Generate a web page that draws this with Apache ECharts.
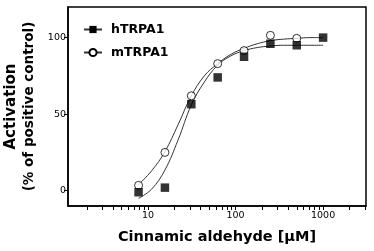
<!DOCTYPE html>
<html lang="en">
<head>
<meta charset="UTF-8">
<title>Cinnamic aldehyde - TRPA1</title>
<script src="https://cdn.jsdelivr.net/npm/echarts@6/dist/echarts.min.js"></script>
<style>
    html, body { margin: 0; padding: 0; background: #fff; }
    #chart { width: 374px; height: 251px; }
</style>
</head>
<body>
<div id="chart"></div>
<script>
    // measured points (concentration in uM, activation in %)
    var doses = [7.8, 15.6, 31.25, 62.5, 125, 250, 500, 1000];
    var hValues = [-1, 2, 56.5, 74, 87.5, 96, 95, 100];
    var mDoses = [7.8, 15.6, 31.25, 62.5, 125, 250, 500];
    var mValues = [3.5, 25, 62, 83, 91.5, 101.5, 99.5];

    // fitted curves
    var fitDoses = [7.8, 11, 15.6, 22, 31.25, 44, 62.5, 88, 125, 177, 250, 354, 500, 707, 1000];
    var hFit = [-5, 1, 13.5, 33, 56, 71, 82, 88, 91.5, 93.5, 94.5, 95, 95, 95, 95];
    var mFit = [4, 13, 25.5, 43, 62, 75, 83, 89, 93, 96, 98, 99, 99.5, 100, 100];

    // axis ticks
    var xTickValues = [2, 3, 4, 5, 6, 7, 8, 9, 10, 20, 30, 40, 50, 60, 70, 80, 90, 100,
        200, 300, 400, 500, 600, 700, 800, 900, 1000, 2000, 3000];
    var xLabelValues = [10, 100, 1000];
    var yLabelValues = [0, 50, 100];

    function lg(v) { return Math.log10(v); }
    function pairs(xs, ys) {
        var out = [];
        for (var i = 0; i < ys.length; i++) {
            out.push([lg(xs[i]), ys[i]]);
        }
        return out;
    }

    var font = 'DejaVu Sans';
    var chart = echarts.init(document.getElementById('chart'));
    chart.setOption({
        animation: false,
        grid: {
            left: 68, right: 8, top: 7, bottom: 45,
            containLabel: false,
            outerBoundsMode: 'none',
            show: true, borderColor: '#000', borderWidth: 1.5
        },
        legend: {
            data: ['hTRPA1', 'mTRPA1'],
            orient: 'vertical',
            left: 78,
            top: 17,
            itemWidth: 18,
            itemHeight: 9,
            itemGap: 8,
            selectedMode: false,
            textStyle: {
                fontFamily: font, fontWeight: 'bold', fontSize: 12.5,
                color: '#000', lineHeight: 15, padding: [0, 0, 0, 4]
            }
        },
        xAxis: {
            type: 'value',
            min: 0.086,
            max: 3.49,
            splitLine: { show: false },
            axisLine: { onZero: false, lineStyle: { color: '#000', width: 1.5 } },
            axisTick: {
                length: 4,
                lineStyle: { color: '#000', width: 1 },
                customValues: xTickValues.map(lg)
            },
            axisLabel: {
                customValues: xLabelValues.map(lg),
                formatter: function (v) { return String(Math.round(Math.pow(10, v))); },
                fontFamily: font, fontSize: 9.5, color: '#000', margin: 5
            },
            name: 'Cinnamic aldehyde [\u03bcM]',
            nameLocation: 'middle',
            nameGap: 24,
            nameTextStyle: { fontFamily: font, fontWeight: 'bold', fontSize: 14.5, color: '#000' }
        },
        yAxis: {
            type: 'value',
            min: -10,
            max: 120,
            splitLine: { show: false },
            axisLine: { onZero: false, lineStyle: { color: '#000', width: 1.5 } },
            axisTick: {
                length: 4,
                lineStyle: { color: '#000', width: 1 },
                customValues: yLabelValues
            },
            axisLabel: {
                customValues: yLabelValues,
                fontFamily: font, fontSize: 9.5, color: '#000', margin: 2
            },
            name: '{a|Activation}\n{b|(% of positive control)}',
            nameLocation: 'middle',
            nameGap: 30,
            nameTextStyle: {
                rich: {
                    a: { fontFamily: font, fontWeight: 'bold', fontSize: 15, color: '#000', lineHeight: 19, align: 'center' },
                    b: { fontFamily: font, fontWeight: 'bold', fontSize: 13.5, color: '#000', lineHeight: 17, align: 'center' }
                }
            }
        },
        series: [
            {
                name: 'hTRPA1',
                type: 'line',
                smooth: 0.4,
                showSymbol: false,
                symbol: 'rect',
                itemStyle: { color: '#000' },
                lineStyle: { color: '#333', width: 1 },
                data: pairs(fitDoses, hFit),
                z: 2
            },
            {
                name: 'mTRPA1',
                type: 'line',
                smooth: 0.4,
                showSymbol: false,
                symbol: 'circle',
                itemStyle: { color: '#fff', borderColor: '#000', borderWidth: 1 },
                lineStyle: { color: '#333', width: 1 },
                data: pairs(fitDoses, mFit),
                z: 2
            },
            {
                name: 'mTRPA1',
                type: 'scatter',
                symbol: 'circle',
                symbolSize: 8,
                itemStyle: { color: '#fff', borderColor: '#000', borderWidth: 1 },
                data: pairs(mDoses, mValues),
                z: 3
            },
            {
                name: 'hTRPA1',
                type: 'scatter',
                symbol: 'rect',
                symbolSize: 8.5,
                itemStyle: { color: '#000' },
                data: pairs(doses, hValues),
                z: 4
            }
        ]
    });
</script>
</body>
</html>
